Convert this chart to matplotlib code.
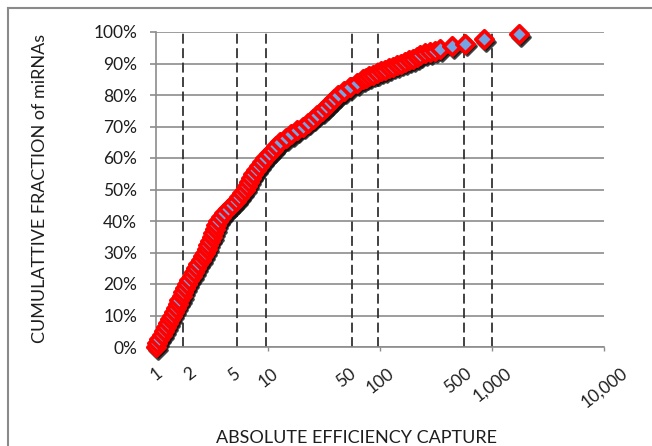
import matplotlib
matplotlib.use("Agg")
import matplotlib.pyplot as plt
from matplotlib.ticker import FixedLocator, FixedFormatter, FuncFormatter
from matplotlib.transforms import offset_copy
from matplotlib.lines import Line2D

plt.rcParams['font.family'] = ['Lato', 'DejaVu Sans']

# ---- data ----
cum_pct = [0, 1.25, 2.5, 3.75, 5, 6.25, 7.5, 8.75, 10, 11.25, 12.5, 13.75, 15, 16.25,
           17.5, 18.75, 20, 21.25, 22.5, 23.75, 25, 26.25, 27.5, 28.75, 30, 31.25, 32.5,
           33.75, 35, 36.25, 37.5, 38.75, 40, 41.25, 42.5, 43.75, 45, 46.25, 47.5, 48.75,
           50, 51.25, 52.5, 53.75, 55, 56.25, 57.5, 58.75, 60, 61.25, 62.5, 63.75, 65,
           66.25, 67.5, 68.75, 70, 71.25, 72.5, 73.75, 75, 76.25, 77.5, 78.75, 80, 81.25,
           82.5, 83.75, 85, 85.5, 86, 86.5, 87, 87.5, 88, 88.5, 89, 89.5, 90, 90.5, 91,
           91.5, 92, 92.7, 93.2, 93.7, 94.1, 94.5, 95.4, 96.3, 97.8, 99.4]
efficiency = [1.00, 1.02, 1.07, 1.12, 1.17, 1.22, 1.28, 1.33, 1.39, 1.45, 1.50, 1.56, 1.62,
              1.69, 1.75, 1.82, 1.89, 1.98, 2.08, 2.17, 2.28, 2.38, 2.50, 2.62, 2.74, 2.83,
              2.93, 3.03, 3.13, 3.24, 3.35, 3.46, 3.58, 3.81, 4.05, 4.39, 4.77, 5.18, 5.51,
              5.86, 6.23, 6.49, 6.77, 7.05, 7.35, 7.81, 8.31, 8.84, 9.40, 10.15, 10.97,
              11.85, 12.80, 14.41, 16.21, 18.25, 20.54, 22.64, 24.97, 27.53, 30.35, 32.96,
              35.78, 38.85, 42.17, 47.71, 53.97, 61.69, 70.5, 75.0, 79.8, 86.6, 94.0, 102.1,
              110.8, 120.3, 130.6, 141.8, 154.0, 167.2, 181.5, 197.1, 211.8, 228, 252, 280,
              310, 343, 439, 574, 848, 1742]
dashed_x = [1.75, 5.3, 9.6, 56, 96, 560, 1000]
major_ticks = [1, 10, 100, 1000, 10000]
major_labels = ['1', '10', '100', '1,000', '10,000']
minor_ticks = [2, 5, 50, 500]
minor_labels = ['2', '5', '50', '500']
y_ticks = [i / 10 for i in range(11)]

frac = [p / 100 for p in cum_pct]

fig = plt.figure(figsize=(6.52, 4.46), dpi=100)
ax = fig.add_axes([156 / 652, 1 - 347 / 446, 448 / 652, 315 / 446])

ax.set_xscale('log')
ax.set_xlim(1, 10000)
ax.set_ylim(0, 1)

grid_c = '#8c8c8c'
ax.yaxis.set_major_locator(FixedLocator(y_ticks))
ax.yaxis.set_major_formatter(FuncFormatter(lambda v, p: f"{v*100:.0f}%"))
ax.grid(axis='y', color=grid_c, lw=1.2, zorder=1)
ax.set_axisbelow(True)

ax.xaxis.set_major_locator(FixedLocator(major_ticks))
ax.xaxis.set_major_formatter(FixedFormatter(major_labels))
ax.xaxis.set_minor_locator(FixedLocator(minor_ticks))
ax.xaxis.set_minor_formatter(FixedFormatter(minor_labels))

for s in ['top', 'right']:
    ax.spines[s].set_visible(False)
for s in ['left', 'bottom']:
    ax.spines[s].set_color(grid_c)
    ax.spines[s].set_linewidth(1.2)

txt_c = '#1e1e1e'
ax.tick_params(axis='y', which='major', direction='out', length=4.5, width=1.2,
               color=grid_c, labelsize=12.5, labelcolor=txt_c, pad=9)
ax.tick_params(axis='x', which='major', direction='out', length=3, width=1.0,
               color=grid_c, labelsize=12.5, labelcolor=txt_c, pad=10)
ax.tick_params(axis='x', which='minor', length=0, labelsize=12.5, labelcolor=txt_c, pad=13)
for lab in ax.get_xticklabels(which='both'):
    lab.set_rotation(38)
    lab.set_ha('center')

for xv in dashed_x:
    ax.axvline(xv, color='#333333', lw=1.3, dashes=(5.5, 2.5), zorder=2)

msize = 78
shadow_tr = offset_copy(ax.transData, fig=fig, x=1.5, y=-2.0, units='points')
ax.scatter(efficiency, frac, marker='D', s=msize, color='#141414', alpha=0.8,
           linewidths=2.4, edgecolors='#141414', transform=shadow_tr,
           zorder=3, clip_on=False)
ax.scatter(efficiency, frac, marker='D', s=msize, facecolor='#74a4e4',
           edgecolors='#ff0000', linewidths=2.7, zorder=4, clip_on=False)

fig.text(40 / 652, 1 - 188 / 446, 'CUMULATTIVE FRACTION of miRNAs', rotation=90,
         ha='center', va='center', fontsize=13, color=txt_c)
fig.text(357 / 652, 1 - 438 / 446, 'ABSOLUTE EFFICIENCY CAPTURE',
         ha='center', va='center', fontsize=13, color=txt_c)

# outer frame
fig.add_artist(Line2D([7.5 / 652, 1], [1 - 7.5 / 446, 1 - 7.5 / 446],
                      transform=fig.transFigure, color='#8a8a8a', lw=1.5))
fig.add_artist(Line2D([7.5 / 652, 7.5 / 652], [0, 1 - 7.5 / 446],
                      transform=fig.transFigure, color='#8a8a8a', lw=1.5))

fig.savefig('out.png', dpi=100)
